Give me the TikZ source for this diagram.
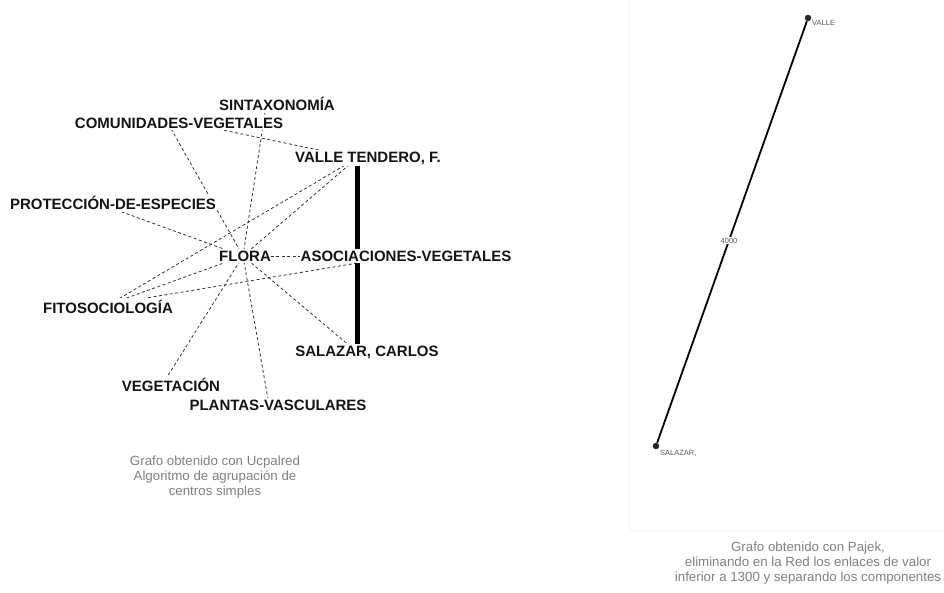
\documentclass[tikz,border=0pt]{standalone}
\usepackage{fontspec}
\setmainfont{Liberation Sans}
\begin{document}
\begin{tikzpicture}[x=1pt,y=-1pt,
  term/.style={fill=white, inner xsep=0.5pt, inner ysep=2pt, text=black!92,
    font=\fontsize{15}{15}\selectfont\bfseries},
  weak/.style={draw=black!80, line width=0.8pt, dash pattern=on 3pt off 2.5pt},
  strong/.style={draw=black, line width=5pt},
  caption/.style={align=center, text=black!50, font=\fontsize{13.3}{15}\selectfont},
  tiny/.style={text=black!65, font=\fontsize{7.5}{7.5}\selectfont, inner sep=1pt},
  vertex/.style={circle, fill=black!85, inner sep=0pt, minimum size=6.5pt},
  panel/.style={draw=black!4, line width=1pt, rounded corners=4pt}]
\useasboundingbox (0,0) rectangle (944,592);

% ---- left graph: vertex positions ----
\coordinate (sin) at (266,106);
\coordinate (com) at (165,118);
\coordinate (val) at (357,158);
\coordinate (pro) at (100,204);
\coordinate (flo) at (243,256);
\coordinate (aso) at (400,256);
\coordinate (fit) at (110,304);
\coordinate (sal) at (357,352);
\coordinate (veg) at (162,385);
\coordinate (pla) at (269,405);

% weak links
\draw[weak] (flo) -- (sin);
\draw[weak] (flo) -- (com);
\draw[weak] (flo) -- (pro);
\draw[weak] (flo) -- (val);
\draw[weak] (flo) -- (fit);
\draw[weak] (flo) -- (aso);
\draw[weak] (flo) -- (veg);
\draw[weak] (flo) -- (pla);
\draw[weak] (flo) -- (sal);
\draw[weak] (com) -- (val);
\draw[weak] (fit) -- (val);
\draw[weak] (fit) -- (aso);
% strong link
\draw[strong] (val) -- (sal);

% labels
\node[term] (lsin) at (277,104) {SINTAXONOMÍA};
\node[term] (lcom) at (179,123) {COMUNIDADES-VEGETALES};
\node[term] (lval) at (368,158) {VALLE TENDERO, F.};
\node[term] (lpro) at (113,203) {PROTECCIÓN-DE-ESPECIES};
\node[term] (lflo) at (245,256) {FLORA};
\node[term] (laso) at (406,256) {ASOCIACIONES-VEGETALES};
\node[term] (lfit) at (108,307) {FITOSOCIOLOGÍA};
\node[term] (lsal) at (367,352) {SALAZAR, CARLOS};
\node[term] (lveg) at (171,385) {VEGETACIÓN};
\node[term] (lpla) at (278,405) {PLANTAS-VASCULARES};

\node[caption] (capl) at (215,477) {Grafo obtenido con Ucpalred\\Algoritmo de agrupación de\\centros simples};

% ---- right graph ----
\draw[panel] (629,-5) -- (629,531) -- (950,531);
\node[vertex] (rval) at (808,18) {};
\node[vertex] (rsal) at (656,446) {};
\draw[line width=1.8pt] (rsal) -- node[tiny, fill=white, pos=0.48] (w) {4000} (rval);
\node[tiny, anchor=west] (tval) at (811,23) {VALLE};
\node[tiny, anchor=west] (tsal) at (659,453) {SALAZAR,};

\node[caption] (capr) at (808,563) {Grafo obtenido con Pajek,\\eliminando en la Red los enlaces de valor\\inferior a 1300 y separando los componentes};
\end{tikzpicture}
\end{document}
